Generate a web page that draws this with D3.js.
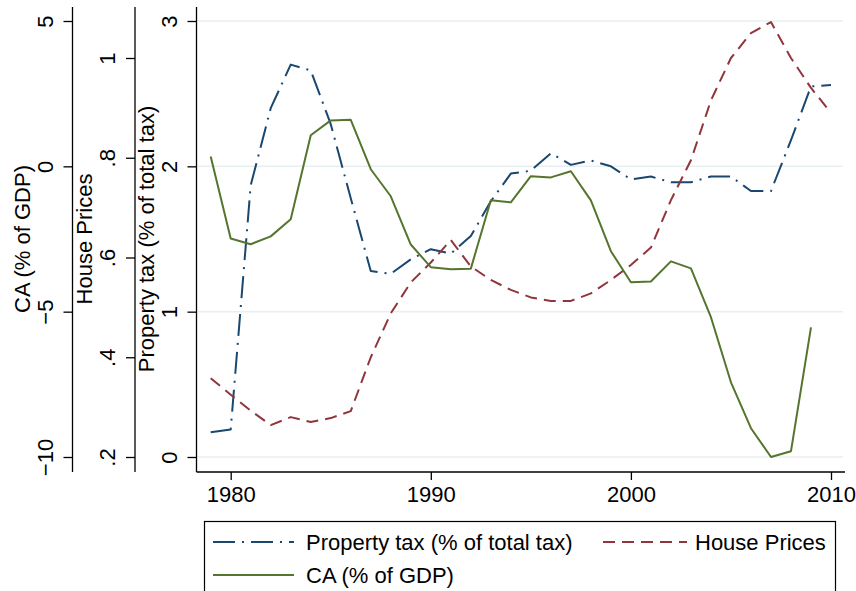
<!DOCTYPE html>
<html>
<head>
<meta charset="utf-8">
<script src="https://cdn.jsdelivr.net/npm/d3@7"></script>
<style>
  html, body { margin: 0; padding: 0; background: #fff; }
  svg { display: block; font-family: "Liberation Sans", Arial, Helvetica, sans-serif; }
</style>
</head>
<body>
<svg id="chart" width="856" height="591"></svg>
<script>
// ---------------- data ----------------
const years = [1979,1980,1981,1982,1983,1984,1985,1986,1987,1988,1989,1990,1991,1992,1993,1994,
               1995,1996,1997,1998,1999,2000,2001,2002,2003,2004,2005,2006,2007,2008,2009,2010];
const propertyTax = [0.17,0.19,1.87,2.40,2.70,2.66,2.29,1.78,1.28,1.26,1.36,1.43,1.40,1.52,1.76,1.95,
                     1.97,2.09,2.01,2.04,2.00,1.91,1.93,1.89,1.89,1.93,1.93,1.83,1.83,2.18,2.55,2.56];
const housePrices = [0.358,0.325,0.293,0.264,0.280,0.270,0.278,0.292,0.400,0.488,0.550,0.590,0.635,0.582,0.555,0.535,
                     0.520,0.513,0.513,0.528,0.555,0.585,0.620,0.715,0.795,0.915,1.000,1.050,1.072,1.000,0.940,0.890];
const caGDP = [0.34,-2.48,-2.68,-2.41,-1.82,1.07,1.58,1.60,-0.10,-1.03,-2.69,-3.47,-3.54,-3.52,-1.17,-1.24,
               -0.34,-0.38,-0.17,-1.17,-2.92,-3.99,-3.96,-3.27,-3.51,-5.19,-7.43,-9.01,-10.0,-9.80,-5.54];
const xTicks = [1980, 1990, 2000, 2010];
const caTicks = [-10, -5, 0, 5];
const hpTicks = [0.2, 0.4, 0.6, 0.8, 1.0];
const hpTickLabels = [".2", ".4", ".6", ".8", "1"];
const ptTicks = [0, 1, 2, 3];
const seriesNames = ["Property tax (% of total tax)", "House Prices", "CA (% of GDP)"];
const axisTitles = ["CA (% of GDP)", "House Prices", "Property tax (% of total tax)"];

// ---------------- layout ----------------
const colors = { pt: "#1a476f", hp: "#90353b", ca: "#55752f" };
const FONT = 22;
const svg = d3.select("#chart");

const x = d3.scaleLinear().domain([1980, 2010]).range([230.7, 831]);
const yPT = d3.scaleLinear().domain([0, 3]).range([457, 21]);
const yCA = d3.scaleLinear().domain([-10, 5]).range([457, 21]);
const yHP = d3.scaleLinear().domain([0.2, 1.0]).range([457, 58]);

const plotLeft = 196.5, plotRight = 845, axisTop = 7, axisBottom = 472;

// gridlines
svg.append("g").selectAll("line").data(ptTicks).join("line")
  .attr("x1", plotLeft + 1).attr("x2", 843)
  .attr("y1", d => yPT(d)).attr("y2", d => yPT(d))
  .attr("stroke", "#e8eff1").attr("stroke-width", 1.5);

// y axes
function yAxis(scale, ticks, labels, xpos, title) {
  const g = svg.append("g").attr("transform", `translate(${xpos},0)`);
  const ax = d3.axisLeft(scale).tickValues(ticks).tickSize(9).tickSizeOuter(0)
    .tickFormat((d, i) => labels ? labels[i] : d3.format("d")(d));
  g.call(ax);
  g.select(".domain").remove();
  g.selectAll(".tick line").attr("stroke", "#000").attr("stroke-width", 1.3);
  g.selectAll(".tick text")
    .attr("transform", "rotate(-90)")
    .attr("x", 0).attr("y", -20).attr("dy", 0)
    .attr("text-anchor", "middle")
    .attr("font-size", FONT).attr("font-family", "Liberation Sans, Arial, sans-serif")
    .attr("fill", "#000");
  g.append("line").attr("x1", 0).attr("x2", 0).attr("y1", axisTop).attr("y2", axisBottom)
    .attr("stroke", "#000").attr("stroke-width", 1.3);
  return g;
}
yAxis(yCA, caTicks, null, 72.5);
yAxis(yHP, hpTicks, hpTickLabels, 135);
yAxis(yPT, ptTicks, null, plotLeft);

// axis titles
const titleX = [30, 92, 154];
axisTitles.forEach((t, i) => {
  svg.append("text")
    .attr("transform", `translate(${titleX[i]},239) rotate(-90)`)
    .attr("text-anchor", "middle")
    .attr("font-size", FONT).attr("fill", "#000")
    .text(t);
});

// x axis
const gx = svg.append("g").attr("transform", `translate(0,${axisBottom})`);
gx.call(d3.axisBottom(x).tickValues(xTicks).tickSize(8).tickSizeOuter(0).tickFormat(d3.format("d")));
gx.select(".domain").remove();
gx.selectAll(".tick line").attr("stroke", "#000").attr("stroke-width", 1.3);
gx.selectAll(".tick text").attr("y", 30).attr("dy", 0)
  .attr("font-size", FONT).attr("font-family", "Liberation Sans, Arial, sans-serif").attr("fill", "#000");
gx.append("line").attr("x1", plotLeft).attr("x2", plotRight).attr("y1", 0).attr("y2", 0)
  .attr("stroke", "#000").attr("stroke-width", 1.3);

// series lines
const dashPT = "22,7,2,7";
const dashHP = "12,7";
function drawLine(vals, yScale, color, dash) {
  const line = d3.line().x((d, i) => x(years[i])).y(d => yScale(d));
  svg.append("path").datum(vals)
    .attr("d", line)
    .attr("fill", "none").attr("stroke", color).attr("stroke-width", 2)
    .attr("stroke-dasharray", dash || null)
    .attr("stroke-linejoin", "round");
}
drawLine(propertyTax, yPT, colors.pt, dashPT);
drawLine(housePrices, yHP, colors.hp, dashHP);
drawLine(caGDP, yCA, colors.ca, null);

// legend
const lg = svg.append("g");
lg.append("rect").attr("x", 204.5).attr("y", 521.5).attr("width", 631).attr("height", 90)
  .attr("fill", "#fff").attr("stroke", "#000").attr("stroke-width", 1.2);
const legendItems = [
  { name: seriesNames[0], color: colors.pt, dash: dashPT, x1: 213, x2: 294, y: 542, tx: 306 },
  { name: seriesNames[1], color: colors.hp, dash: dashHP, x1: 603, x2: 687, y: 542, tx: 695 },
  { name: seriesNames[2], color: colors.ca, dash: null, x1: 213, x2: 294, y: 575, tx: 306 }
];
legendItems.forEach(it => {
  lg.append("line").attr("x1", it.x1).attr("x2", it.x2).attr("y1", it.y).attr("y2", it.y)
    .attr("stroke", it.color).attr("stroke-width", 2).attr("stroke-dasharray", it.dash);
  lg.append("text").attr("x", it.tx).attr("y", it.y + 8)
    .attr("font-size", FONT).attr("fill", "#000").text(it.name);
});
</script>
</body>
</html>
